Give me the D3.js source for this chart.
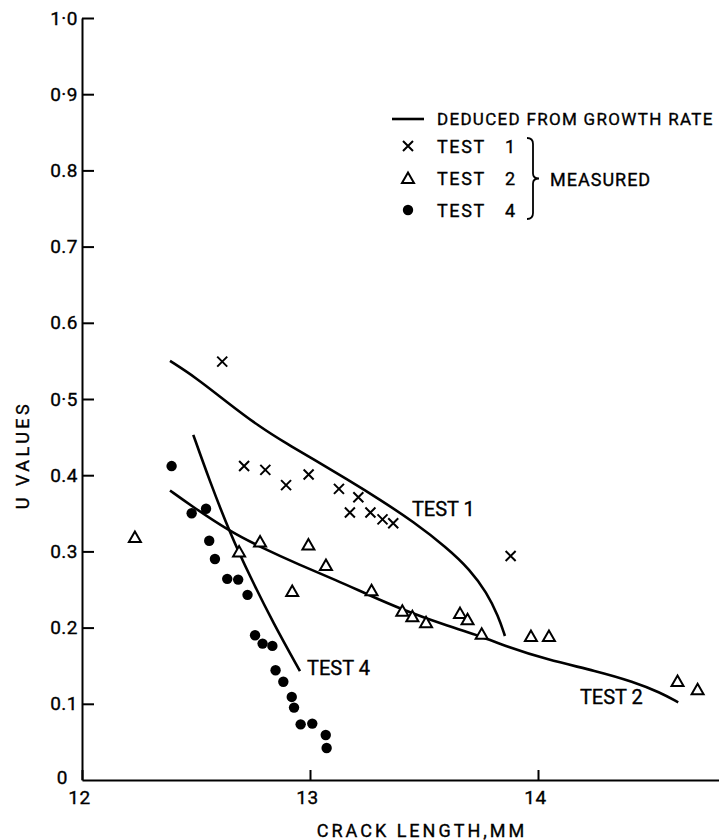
<!DOCTYPE html>
<html>
<head>
<meta charset="utf-8">
<script src="https://cdn.jsdelivr.net/npm/d3@7"></script>
<style>
  body { margin: 0; background: #fff; }
  svg text { font-family: Roboto, "DejaVu Sans", sans-serif; fill: #000; stroke: #000; stroke-width: 0.35px; }
</style>
</head>
<body>
<div id="chart"></div>
<script>
// measured points: [crack length mm, U]
const test1 = [[12.615,0.549],[12.711,0.412],[12.804,0.407],[12.895,0.387],[12.994,0.401],[13.127,0.382],
  [13.175,0.351],[13.212,0.371],[13.265,0.351],[13.318,0.342],[13.365,0.337],[13.880,0.294]];
const test2 = [[12.232,0.319],[12.689,0.300],[12.781,0.313],[12.922,0.248],[12.993,0.309],[13.070,0.282],
  [13.270,0.249],[13.405,0.222],[13.449,0.215],[13.509,0.207],[13.658,0.219],[13.691,0.211],
  [13.753,0.192],[13.969,0.189],[14.048,0.189],[14.612,0.130],[14.700,0.119]];
const test4 = [[12.393,0.412],[12.481,0.350],[12.544,0.356],[12.558,0.314],[12.583,0.290],[12.637,0.264],
  [12.685,0.263],[12.726,0.243],[12.759,0.190],[12.792,0.179],[12.835,0.176],[12.849,0.144],
  [12.883,0.129],[12.920,0.109],[12.930,0.095],[12.959,0.073],[13.010,0.074],[13.069,0.059],[13.073,0.042]];

// curves deduced from growth rate
const curve1 = [[12.386,0.550],[12.500,0.528],[12.635,0.496],[12.781,0.463],[12.900,0.441],[13.014,0.421],
  [13.161,0.395],[13.307,0.368],[13.453,0.339],[13.600,0.305],[13.702,0.276],[13.775,0.246],
  [13.826,0.215],[13.855,0.189]];
const curve2 = [[12.386,0.380],[12.474,0.361],[12.649,0.326],[12.781,0.306],[12.956,0.282],[13.117,0.262],
  [13.249,0.244],[13.409,0.223],[13.614,0.201],[13.746,0.189],[13.863,0.175],[14.038,0.158],
  [14.257,0.143],[14.418,0.129],[14.535,0.115],[14.615,0.102]];
const curve4 = [[12.488,0.453],[12.558,0.394],[12.649,0.324],[12.737,0.267],[12.839,0.206],[12.956,0.143]];

const curveLabels = [
  {text: "TEST 1", x: 13.447, y: 0.346},
  {text: "TEST 2", x: 14.184, y: 0.100},
  {text: "TEST 4", x: 12.987, y: 0.138}
];

const xTicks = [12, 13, 14];
const yTicks = [0, 0.1, 0.2, 0.3, 0.4, 0.5, 0.6, 0.7, 0.8, 0.9, 1.0];
const yTickLabels = ["0", "0.1", "0.2", "0.3", "0.4", "0·5", "0.6", "0.7", "0.8", "0·9", "1·0"];

const width = 719, height = 840;
const ink = "#000";

const svg = d3.select("#chart").append("svg")
    .attr("width", width)
    .attr("height", height);

const xScale = d3.scaleLinear().domain([12, 14.8]).range([82, 82 + 2.8 * 228]);
const yScale = d3.scaleLinear().domain([0, 1]).range([780, 18]);

// axes
const xAxis = d3.axisBottom(xScale)
    .tickValues(xTicks)
    .tickSize(-10)
    .tickSizeOuter(0)
    .tickPadding(11)
    .tickFormat(d3.format("d"));

const gx = svg.append("g")
    .attr("transform", `translate(0,${yScale(0)})`)
    .call(xAxis);

const yAxis = d3.axisLeft(yScale)
    .tickValues(yTicks)
    .tickSize(-12)
    .tickSizeOuter(0)
    .tickPadding(4)
    .tickFormat((d, i) => yTickLabels[i]);

const gy = svg.append("g")
    .attr("transform", `translate(${xScale(12)},0)`)
    .call(yAxis);

[gx, gy].forEach(g => {
    g.select(".domain").attr("stroke", ink).attr("stroke-width", 2);
    g.selectAll(".tick line").attr("stroke", ink).attr("stroke-width", 2);
    g.selectAll(".tick text")
        .attr("fill", ink)
        .style("font-size", "19px")
        .style("letter-spacing", "0.5px")
        .style("font-family", "Roboto, sans-serif");
});
gx.selectAll(".tick text").attr("dx", "-3");
// the zero label sits a bit to the left of the corner
gy.selectAll(".tick").filter(d => d === 0).select("text").attr("x", -14).attr("dy", "0.2em");
gy.selectAll(".tick").filter(d => d === 0).select("line").remove();

// axis titles
svg.append("text")
    .attr("x", 422)
    .attr("y", 837)
    .attr("text-anchor", "middle")
    .style("font-size", "18px")
    .style("letter-spacing", "3px")
    .text("CRACK LENGTH,MM");

svg.append("text")
    .attr("transform", `translate(29,455) rotate(-90)`)
    .attr("text-anchor", "middle")
    .style("font-size", "18px")
    .style("letter-spacing", "3.5px")
    .text("U VALUES");

// deduced curves
const line = d3.line()
    .x(d => xScale(d[0]))
    .y(d => yScale(d[1]))
    .curve(d3.curveBasis);

svg.append("g")
    .selectAll("path")
    .data([curve1, curve2, curve4])
    .join("path")
        .attr("d", line)
        .attr("fill", "none")
        .attr("stroke", ink)
        .attr("stroke-width", 2.6);

svg.append("g")
    .selectAll("text")
    .data(curveLabels)
    .join("text")
        .attr("x", d => xScale(d.x))
        .attr("y", d => yScale(d.y))
        .style("font-size", "20px")
        .text(d => d.text);

// markers
const crossPath = "M-5,-5L5,5M-5,5L5,-5";
const triPath = "M0,-5.5L6,5L-6,5Z";

svg.append("g")
    .selectAll("path")
    .data(test1)
    .join("path")
        .attr("transform", d => `translate(${xScale(d[0])},${yScale(d[1])})`)
        .attr("d", crossPath)
        .attr("stroke", ink)
        .attr("stroke-width", 2)
        .attr("fill", "none");

svg.append("g")
    .selectAll("path")
    .data(test2)
    .join("path")
        .attr("transform", d => `translate(${xScale(d[0])},${yScale(d[1])})`)
        .attr("d", triPath)
        .attr("stroke", ink)
        .attr("stroke-width", 2)
        .attr("fill", "#fff");

svg.append("g")
    .selectAll("circle")
    .data(test4)
    .join("circle")
        .attr("cx", d => xScale(d[0]))
        .attr("cy", d => yScale(d[1]))
        .attr("r", 5.2)
        .attr("fill", ink);

// legend
const legend = svg.append("g");
const lx = 408, tx = 437, rowH = 32, row0 = 153;

legend.append("line")
    .attr("x1", lx - 16).attr("x2", lx + 16)
    .attr("y1", 119).attr("y2", 119)
    .attr("stroke", ink).attr("stroke-width", 2.6);
legend.append("text")
    .attr("x", tx).attr("y", 125)
    .style("font-size", "17px")
    .style("letter-spacing", "1.3px")
    .text("DEDUCED FROM GROWTH RATE");

const legendRows = ["1", "2", "4"];
legendRows.forEach((n, i) => {
    const cy = row0 + i * rowH - 7;
    if (i === 0) {
        legend.append("path").attr("transform", `translate(${lx},${cy})`).attr("d", crossPath)
            .attr("stroke", ink).attr("stroke-width", 2).attr("fill", "none");
    } else if (i === 1) {
        legend.append("path").attr("transform", `translate(${lx},${cy})`).attr("d", triPath)
            .attr("stroke", ink).attr("stroke-width", 2).attr("fill", "none");
    } else {
        legend.append("circle").attr("cx", lx).attr("cy", cy).attr("r", 5.2).attr("fill", ink);
    }
    legend.append("text")
        .attr("x", tx).attr("y", row0 + i * rowH)
        .style("font-size", "18px")
        .style("letter-spacing", "1.6px")
        .text("TEST");
    legend.append("text")
        .attr("x", 505).attr("y", row0 + i * rowH)
        .style("font-size", "18px")
        .text(n);
});

// brace grouping the measured tests
const bx = 533, bTop = 138, bBot = 219, bMid = (bTop + bBot) / 2;
const brace = d3.path();
brace.moveTo(bx - 6, bTop);
brace.quadraticCurveTo(bx, bTop, bx, bTop + 6);
brace.lineTo(bx, bMid - 5);
brace.quadraticCurveTo(bx, bMid, bx + 6, bMid);
brace.quadraticCurveTo(bx, bMid, bx, bMid + 5);
brace.lineTo(bx, bBot - 6);
brace.quadraticCurveTo(bx, bBot, bx - 6, bBot);
legend.append("path")
    .attr("d", brace.toString())
    .attr("fill", "none")
    .attr("stroke", ink)
    .attr("stroke-width", 1.8);

legend.append("text")
    .attr("x", 550).attr("y", bMid + 7)
    .style("font-size", "18px")
    .style("letter-spacing", "1px")
    .text("MEASURED");
</script>
</body>
</html>
